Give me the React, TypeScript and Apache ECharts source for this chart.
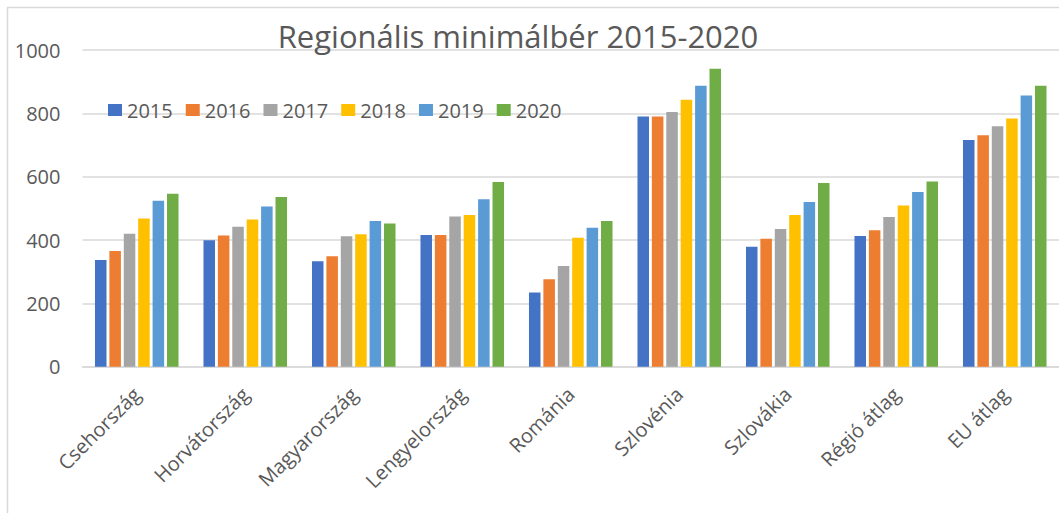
import React, { useEffect, useRef } from "react";
import * as echarts from "echarts";

const categories = [
  "Csehország",
  "Horvátország",
  "Magyarország",
  "Lengyelország",
  "Románia",
  "Szlovénia",
  "Szlovákia",
  "Régió átlag",
  "EU átlag",
];
const years = ["2015", "2016", "2017", "2018", "2019", "2020"];
const v2015 = [337, 399, 333, 416, 234, 790, 379, 413, 716];
const v2016 = [365, 414, 349, 416, 276, 790, 404, 431, 731];
const v2017 = [420, 442, 412, 474, 318, 804, 435, 473, 759];
const v2018 = [468, 465, 418, 479, 407, 843, 479, 509, 784];
const v2019 = [524, 506, 460, 529, 439, 887, 520, 552, 856];
const v2020 = [546, 536, 452, 583, 460, 941, 580, 585, 887];
const seriesValues = [v2015, v2016, v2017, v2018, v2019, v2020];
const colors = ["#4472C4", "#ED7D31", "#A5A5A5", "#FFC000", "#5B9BD5", "#70AD47"];
const yTicks = [0, 200, 400, 600, 800, 1000];

const FONT = "'Open Sans', sans-serif";
const TXT = "#595959";

export default function App() {
  const ref = useRef<HTMLDivElement>(null);
  useEffect(() => {
    if (!ref.current) return;
    const chart = echarts.init(ref.current, undefined, { renderer: "svg" });
    chart.setOption({
      animation: false,
      backgroundColor: "#ffffff",
      color: colors,
      textStyle: { fontFamily: FONT },
      graphic: [
        {
          type: "rect",
          shape: { x: 7.5, y: 7.5, width: 1200, height: 700 },
          style: { fill: "none", stroke: "#d9d9d9", lineWidth: 1.5 },
          silent: true,
          z: -10,
        },
        {
          type: "text",
          x: 518,
          y: 36,
          style: {
            text: "Regionális minimálbér 2015-2020",
            fill: TXT,
            font: `31px ${FONT}`,
            textAlign: "center",
            textVerticalAlign: "middle",
          },
          z: 10,
        },
      ],
      legend: {
        data: years,
        left: 103,
        top: 95,
        itemWidth: 14,
        itemHeight: 12,
        itemGap: 13,
        icon: "rect",
        textStyle: { color: TXT, fontSize: 20, fontFamily: FONT },
      },
      grid: { left: 82.5, right: -7, top: 50, bottom: 146.3, containLabel: false },
      xAxis: {
        type: "category",
        data: categories,
        axisLine: { lineStyle: { color: "#d9d9d9", width: 1.5 } },
        axisTick: { show: false },
        axisLabel: {
          rotate: 45,
          interval: 0,
          margin: 24,
          color: TXT,
          fontSize: 20,
          fontFamily: FONT,
        },
      },
      yAxis: {
        type: "value",
        min: yTicks[0],
        max: yTicks[yTicks.length - 1],
        interval: 200,
        axisLine: { show: false },
        axisTick: { show: false },
        splitLine: { lineStyle: { color: "#d9d9d9", width: 1.5 } },
        axisLabel: {
          color: TXT,
          fontSize: 20,
          fontFamily: FONT,
          margin: 22,
          formatter: (v: number) => String(v),
        },
      },
      series: years.map((y, i) => ({
        name: y,
        type: "bar",
        data: seriesValues[i],
        barGap: "25%",
        barCategoryGap: "23%",
      })),
    });
    return () => chart.dispose();
  }, []);
  return (
    <div
      ref={ref}
      style={{ position: "fixed", left: 0, top: 0, width: 1059, height: 513, overflow: "hidden" }}
    />
  );
}
